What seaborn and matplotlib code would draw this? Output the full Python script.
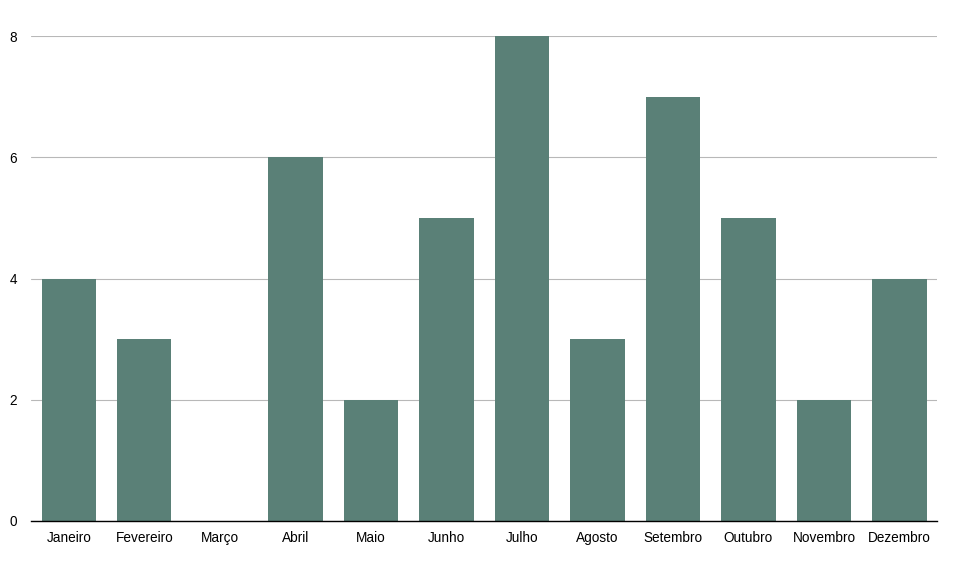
import matplotlib
matplotlib.use("Agg")
import matplotlib.pyplot as plt
import seaborn as sns
import pandas as pd

# Data
months = ['Janeiro', 'Fevereiro', 'Março', 'Abril', 'Maio', 'Junho',
          'Julho', 'Agosto', 'Setembro', 'Outubro', 'Novembro', 'Dezembro']
values = [4, 3, 0, 6, 2, 5, 8, 3, 7, 5, 2, 4]
y_ticks = [0, 2, 4, 6, 8]

df = pd.DataFrame({'month': months, 'value': values})

sns.set_theme(style="white")
plt.rcParams['font.family'] = ['Liberation Sans', 'DejaVu Sans']

fig = plt.figure(figsize=(9.6, 5.69), dpi=100)
ax = fig.add_axes([0.0323, 0.0844, 0.944, 0.852])

sns.barplot(data=df, x='month', y='value', color='#5A8077', saturation=1,
            width=0.72, linewidth=0, ax=ax, zorder=3)

ax.set_ylim(0, 8)
ax.set_xlim(-0.5, len(months) - 0.5)
ax.set_yticks(y_ticks)
ax.yaxis.grid(True, color='#b8b8b8', linewidth=0.8, zorder=0)
ax.set_axisbelow(True)
ax.set_xlabel('')
ax.set_ylabel('')

for s in ['top', 'right', 'left']:
    ax.spines[s].set_visible(False)
ax.spines['bottom'].set_color('black')
ax.spines['bottom'].set_linewidth(1.0)
ax.spines['bottom'].set_zorder(4)

ax.tick_params(axis='both', length=0, labelsize=9.8, labelcolor='black')
ax.tick_params(axis='x', pad=7.5)
ax.tick_params(axis='y', pad=10)

fig.savefig('out.png', dpi=100)
